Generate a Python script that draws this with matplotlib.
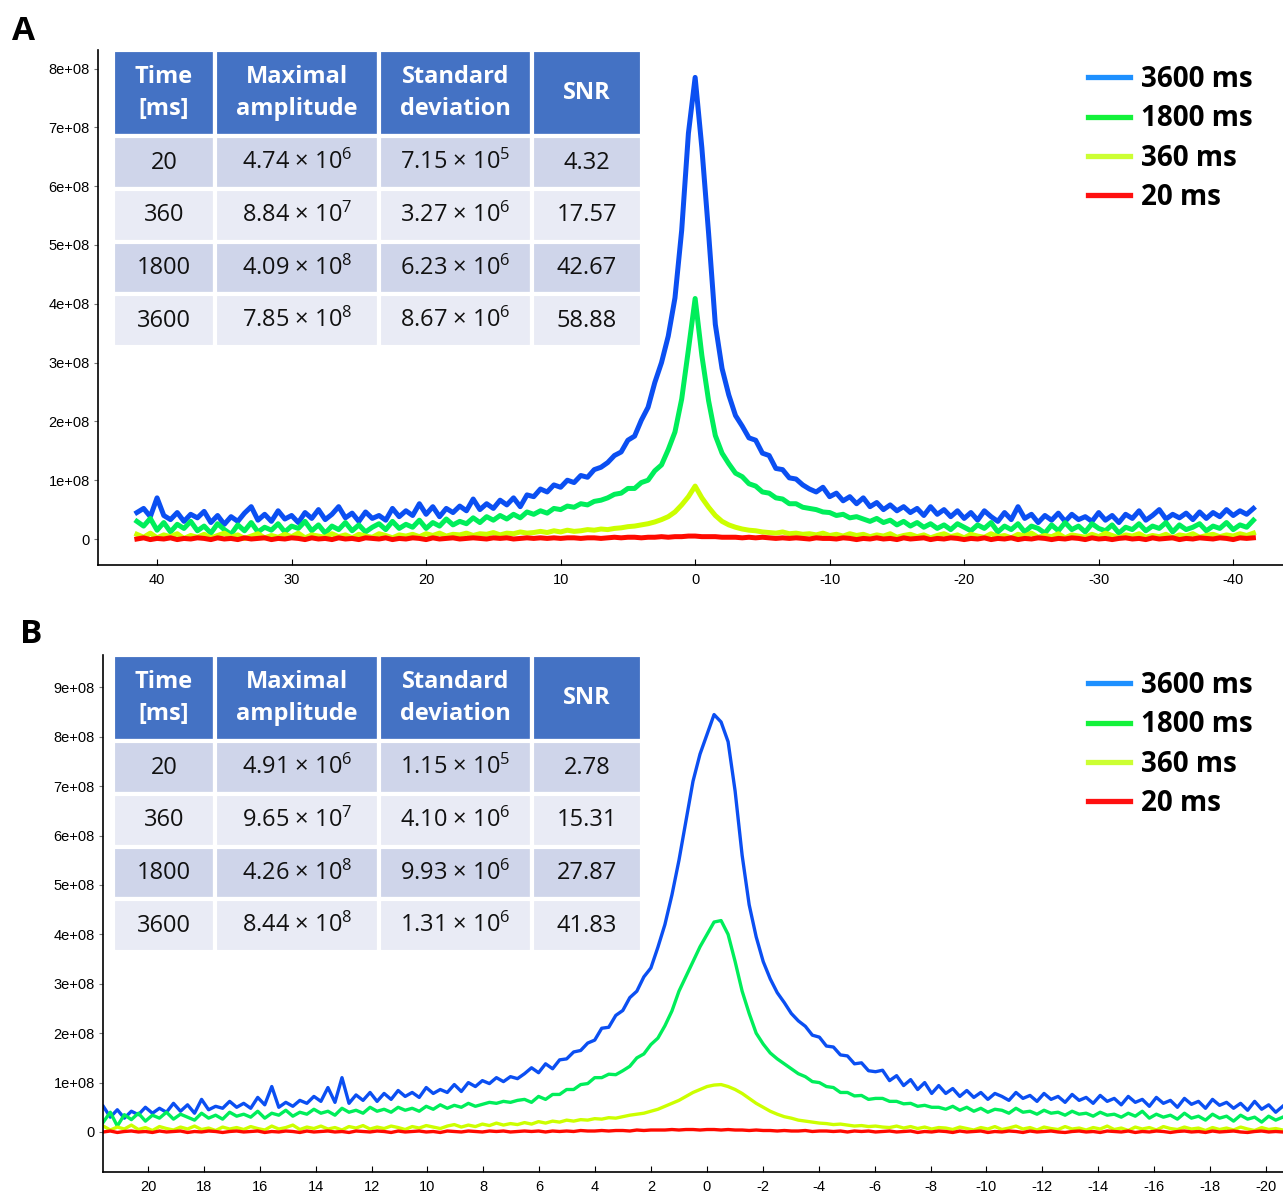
import matplotlib
matplotlib.use('Agg')
import matplotlib.pyplot as plt
from matplotlib.lines import Line2D
from matplotlib.font_manager import FontProperties
from matplotlib.ticker import FuncFormatter, MultipleLocator
import numpy as np

plt.rcParams['font.family'] = ['Liberation Sans', 'DejaVu Sans']
plt.rcParams['axes.unicode_minus'] = False
plt.rcParams['mathtext.fontset'] = 'custom'
plt.rcParams['mathtext.rm'] = 'Open Sans'
plt.rcParams['mathtext.it'] = 'Open Sans:italic'
plt.rcParams['mathtext.bf'] = 'Open Sans:bold'

W, H = 1283, 1192

labels = ['3600 ms', '1800 ms', '360 ms', '20 ms']
line_colors = ['#0b4ff2', '#00ee5a', '#ccff00', '#ff0a00']
legend_colors = ['#1e90ff', '#13f23a', '#ccff33', '#ff1010']

header = ['Time\n[ms]', 'Maximal\namplitude', 'Standard\ndeviation', 'SNR']
times = ['20', '360', '1800', '3600']

# panel A table
amp_a = [(4.74, 6), (8.84, 7), (4.09, 8), (7.85, 8)]
std_a = [(7.15, 5), (3.27, 6), (6.23, 6), (8.67, 6)]
snr_a = [4.32, 17.57, 42.67, 58.88]

# panel B table
amp_b = [(4.91, 6), (9.65, 7), (4.26, 8), (8.44, 8)]
std_b = [(1.15, 5), (4.10, 6), (9.93, 6), (1.31, 6)]
snr_b = [2.78, 15.31, 27.87, 41.83]

# panel A spectra, units of 1e6, read every 0.5 from 41.5 down to -41.5
blue_a = [45, 52, 38, 70, 40, 33, 45, 30, 42, 36,
          47, 28, 40, 25, 38, 30, 44, 55, 32, 42,
          30, 48, 34, 40, 28, 45, 35, 50, 33, 42,
          55, 36, 44, 30, 46, 35, 40, 32, 52, 38,
          48, 40, 60, 42, 55, 38, 52, 45, 56, 48,
          68, 50, 60, 52, 66, 58, 70, 55, 75, 72,
          85, 80, 92, 88, 100, 96, 108, 105, 118, 122,
          130, 142, 148, 168, 175, 202, 224, 266, 300, 345,
          410, 525, 690, 785, 665, 520, 365, 290, 245, 210,
          192, 172, 168, 146, 142, 120, 118, 104, 102, 92,
          85, 80, 88, 72, 78, 65, 72, 60, 70, 55,
          62, 50, 58, 48, 55, 45, 52, 40, 55, 42,
          50, 38, 48, 35, 45, 32, 48, 38, 30, 45,
          33, 55, 35, 42, 28, 40, 32, 44, 30, 42,
          33, 38, 30, 45, 32, 40, 28, 42, 35, 48,
          32, 40, 50, 34, 42, 36, 44, 33, 46, 35,
          45, 38, 50, 40, 48, 42, 52]
green_a = [30, 22, 35, 15, 28, 12, 25, 18, 30, 14,
           22, 10, 26, 16, 8, 24, 14, 28, 12, 20,
           15, 26, 12, 22, 18, 30, 14, 24, 10, 22,
           16, 28, 14, 24, 12, 20, 26, 16, 30, 18,
           25, 20, 32, 18, 28, 22, 34, 24, 30, 26,
           36, 28, 38, 32, 40, 34, 42, 36, 46, 42,
           48, 44, 52, 50, 56, 54, 60, 58, 64, 66,
           70, 76, 78, 86, 86, 96, 100, 116, 126, 152,
           182, 238, 322, 409, 312, 235, 176, 146, 128, 112,
           106, 94, 90, 80, 78, 70, 68, 60, 60, 54,
           52, 50, 46, 45, 40, 42, 36, 38, 34, 30,
           35, 28, 32, 24, 30, 22, 28, 20, 26, 18,
           24, 16, 26, 20, 14, 24, 18, 28, 12, 22,
           16, 26, 12, 22, 18, 10, 24, 14, 28, 16,
           22, 12, 26, 18, 14, 24, 10, 20, 16, 26,
           14, 22, 18, 28, 12, 24, 16, 20, 26, 14,
           22, 18, 28, 16, 24, 20, 32]
yellow_a = [8, 3, 10, 2, 7, 4, 9, 1, 6, 3,
            8, 2, 6, 10, 3, 7, 1, 5, 9, 2,
            6, 3, 8, 4, 10, 2, 7, 5, 3, 9,
            4, 7, 2, 8, 5, 3, 9, 6, 2, 7,
            5, 8, 4, 9, 6, 10, 5, 8, 7, 10,
            6, 9, 8, 11, 7, 10, 9, 12, 10, 11,
            13, 11, 14, 12, 15, 13, 14, 16, 15, 17,
            16, 18, 19, 21, 22, 24, 26, 29, 33, 38,
            46, 58, 72, 90, 70, 54, 40, 30, 24, 20,
            17, 15, 14, 12, 11, 10, 12, 9, 10, 8,
            9, 7, 10, 6, 8, 5, 9, 6, 8, 4,
            7, 5, 9, 3, 6, 8, 4, 7, 2, 6,
            9, 4, 7, 2, 8, 5, 3, 9, 4, 6,
            2, 8, 5, 10, 3, 6, 4, 9, 2, 7,
            5, 3, 8, 4, 10, 6, 2, 7, 5, 9,
            3, 6, 4, 8, 2, 7, 5, 9, 3, 6,
            8, 4, 7, 5, 9, 6, 10]
red_a = [0, 2, -1, 1, 0, 2, -1, 1, 0, 2,
         1, -1, 2, 0, 1, -1, 2, 0, 1, 2,
         -1, 1, 0, 2, 1, -1, 2, 0, 1, -1,
         2, 0, 1, -1, 2, 1, 0, 2, -1, 1,
         0, 2, 1, -1, 2, 0, 1, 2, 0, 1,
         2, 1, 0, 2, 1, 2, 0, 1, 2, 1,
         2, 1, 2, 1, 2, 2, 1, 2, 2, 1,
         2, 3, 2, 3, 3, 2, 3, 3, 4, 3,
         4, 4, 5, 5, 4, 4, 4, 3, 3, 3,
         2, 3, 2, 3, 2, 1, 2, 1, 2, 1,
         0, 2, 1, 1, 0, 2, 1, -1, 1, 0,
         2, 0, 1, -1, 2, 0, 1, 2, -1, 1,
         0, 2, 1, -1, 1, 0, 2, -1, 1, 0,
         2, -1, 1, 0, 2, 1, -1, 1, 0, 2,
         1, -1, 2, 0, 1, -1, 1, 2, 0, 1,
         -1, 2, 0, 1, 2, -1, 1, 0, 2, 1,
         0, 2, 1, -1, 2, 1, 2]

# panel B spectra, units of 1e6, read every 0.25 from 21.6 down to -20.6
blue_b = [52, 30, 45, 28, 42, 35, 50, 38, 48, 40, 58, 42, 55, 38, 66, 45, 52, 48, 62, 50,
          58, 48, 70, 55, 92, 50, 60, 52, 64, 58, 72, 62, 90, 60, 110, 58, 75, 64, 80, 62,
          78, 66, 84, 72, 80, 70, 90, 78, 86, 80, 96, 82, 100, 92, 104, 98, 110, 102, 112, 108,
          118, 130, 120, 138, 128, 146, 148, 162, 165, 180, 186, 210, 212, 236, 246, 272, 285, 314, 332, 374,
          420, 480, 550, 630, 710, 765, 805, 845, 830, 790, 690, 560, 460, 395, 345, 310, 282, 262, 240, 225,
          214, 196, 192, 174, 172, 156, 154, 138, 140, 124, 122, 125, 104, 114, 94, 106, 86, 100, 78, 94,
          78, 88, 72, 84, 70, 80, 66, 78, 72, 64, 80, 68, 74, 62, 78, 66, 72, 60, 76, 64,
          70, 58, 74, 62, 68, 55, 72, 60, 66, 52, 70, 58, 64, 50, 68, 56, 62, 48, 66, 54,
          60, 48, 58, 44, 62, 46, 55, 40, 52]
green_b = [20, 40, 12, 35, 25, 38, 22, 34, 28, 40, 26, 36, 30, 24, 38, 28, 34, 26, 40, 32,
           36, 30, 42, 28, 38, 34, 44, 32, 40, 36, 46, 38, 42, 34, 48, 40, 44, 38, 50, 42,
           46, 40, 50, 44, 48, 42, 52, 46, 55, 48, 54, 50, 58, 52, 56, 60, 58, 62, 60, 64,
           66, 60, 72, 66, 76, 76, 86, 86, 96, 98, 110, 110, 117, 116, 124, 133, 150, 158, 177, 190,
           215, 245, 285, 315, 345, 375, 400, 425, 428, 400, 345, 285, 240, 200, 178, 160, 148, 138, 128, 118,
           112, 102, 100, 92, 90, 80, 80, 73, 74, 66, 68, 68, 62, 62, 57, 58, 52, 54, 50, 50,
           46, 52, 44, 50, 42, 48, 40, 46, 44, 38, 48, 40, 42, 36, 44, 38, 40, 34, 42, 36,
           38, 32, 40, 34, 36, 30, 38, 32, 42, 28, 36, 30, 34, 26, 38, 28, 32, 24, 36, 28,
           32, 22, 34, 26, 30, 20, 32, 24, 30]
yellow_b = [12, 4, 10, 6, 14, 5, 9, 3, 11, 7, 4, 10, 6, 12, 5, 8, 3, 10, 6, 9,
            5, 11, 7, 4, 12, 6, 9, 14, 5, 10, 7, 12, 6, 9, 4, 11, 8, 13, 6, 10,
            7, 12, 9, 5, 11, 8, 13, 10, 7, 12, 15, 10, 14, 11, 16, 13, 18, 14, 17, 15,
            19, 16, 21, 18, 22, 20, 24, 22, 25, 24, 27, 26, 29, 28, 31, 34, 36, 38, 42, 46,
            52, 58, 64, 72, 80, 86, 92, 95, 96, 92, 86, 78, 68, 58, 50, 42, 36, 31, 28, 24,
            22, 20, 18, 17, 15, 16, 14, 12, 13, 11, 12, 10, 9, 12, 8, 11, 7, 10, 6, 9,
            8, 5, 10, 7, 4, 9, 6, 11, 5, 8, 12, 6, 9, 4, 10, 7, 5, 11, 6, 8,
            4, 9, 6, 12, 5, 8, 3, 10, 6, 9, 4, 11, 7, 5, 10, 6, 8, 3, 9, 5,
            8, 4, 10, 6, 3, 9, 5, 7, 4]
red_b = [0, 2, -1, 1, 2, 0, 1, -1, 2, 0, 1, 2, -1, 1, 0, 2, 1, -1, 1, 2,
         0, 1, 2, -1, 1, 0, 2, 1, -1, 2, 0, 1, 2, 0, 1, -1, 2, 1, 0, 2,
         1, -1, 2, 0, 1, 2, 0, 1, -1, 2, 1, 0, 2, 1, 0, 2, 1, 2, 0, 1,
         2, 1, 2, 0, 2, 1, 2, 1, 3, 2, 2, 3, 2, 3, 3, 2, 4, 3, 4, 4,
         4, 5, 4, 5, 5, 4, 5, 5, 4, 5, 4, 4, 3, 4, 3, 3, 2, 3, 2, 2,
         3, 1, 2, 2, 1, 2, 0, 2, 1, 2, 0, 1, 2, 0, 1, 2, -1, 1, 0, 2,
         1, -1, 2, 0, 1, 2, -1, 1, 0, 2, 1, -1, 2, 0, 1, 2, 0, -1, 1, 2,
         0, 1, -1, 2, 1, 0, 2, -1, 1, 0, 2, 1, -1, 1, 2, 0, 1, -1, 2, 0,
         1, 2, 0, -1, 1, 2, 0, 1, 0]


def px_rect(l, t, r, b):
    return [l / W, 1 - b / H, (r - l) / W, (b - t) / H]


def px_bbox(ax_px, l, t, r, b):
    al, at, ar, ab = ax_px
    return [(l - al) / (ar - al), (ab - b) / (ab - at), (r - l) / (ar - al), (b - t) / (ab - at)]


def sci(pair):
    m, e = pair
    return f'{m:.2f} × $10^{{{e}}}$'


def y_label(v, pos):
    if abs(v) < 1:
        return '0'
    return f'{v:.0e}'


def draw_panel(ax, series, x_start, x_end, xlim, ylim, xstep, lw):
    for ys, c in zip(series, line_colors):
        xs = np.linspace(x_start, x_end, len(ys))
        ax.plot(xs, np.array(ys) * 1e6, color=c, lw=lw)
    ax.set_xlim(xlim)
    ax.set_ylim(ylim)
    for s in ['top', 'right']:
        ax.spines[s].set_visible(False)
    for s in ['left', 'bottom']:
        ax.spines[s].set_linewidth(1.2)
    ax.xaxis.set_major_locator(MultipleLocator(xstep))
    ax.yaxis.set_major_locator(MultipleLocator(1e8))
    ax.yaxis.set_major_formatter(FuncFormatter(y_label))
    ax.tick_params(axis='x', direction='in', length=4, pad=6, labelsize=10.5)
    ax.tick_params(axis='y', direction='out', length=3, pad=3, labelsize=10.5, color='#777777')


def draw_table(ax, amps, stds, snrs, bbox):
    body = [[t, sci(a), sci(s), f'{n:.2f}'] for t, a, s, n in zip(times, amps, stds, snrs)]
    tbl = ax.table(cellText=body, colLabels=header, colWidths=[102, 164, 153, 110],
                   bbox=bbox, cellLoc='center')
    tbl.auto_set_font_size(False)
    for (r, c), cell in tbl.get_celld().items():
        cell.set_edgecolor('white')
        cell.set_linewidth(3)
        txt = cell.get_text()
        if r == 0:
            cell.set_facecolor('#4472c4')
            cell.set_height(86)
            txt.set_fontproperties(FontProperties(family='Open Sans', weight='bold', size=17))
            txt.set_color('white')
            txt.set_linespacing(1.42)
        else:
            cell.set_facecolor('#cfd5ea' if r % 2 == 1 else '#e9ebf5')
            cell.set_height(52.5)
            txt.set_fontproperties(FontProperties(family='Open Sans', size=17))
            txt.set_color('#111111')
    return tbl


def draw_legend(fig, ax, top_px):
    handles = [Line2D([], [], color=c, lw=3.8) for c in legend_colors]
    ax.legend(handles, labels, loc='upper left', bbox_to_anchor=(1088 / W, 1 - top_px / H),
              bbox_transform=fig.transFigure, frameon=False, borderpad=0, borderaxespad=0,
              handlelength=1.5, handletextpad=0.4, labelspacing=0.37,
              prop=FontProperties(family='Open Sans', weight='bold', size=20))


fig = plt.figure(figsize=(W / 100, H / 100), dpi=100)

ax_a_px = (98, 50, 1283, 565)
ax_a = fig.add_axes(px_rect(*ax_a_px))
draw_panel(ax_a, [blue_a, green_a, yellow_a, red_a], 41.5, -41.5,
           (44.39, -43.7), (-0.442e8, 8.316e8), 10, 3.6)
draw_table(ax_a, amp_a, std_a, snr_a, px_bbox(ax_a_px, 113, 50, 642, 347))
draw_legend(fig, ax_a, 65)

ax_b_px = (103, 655, 1283, 1172)
ax_b = fig.add_axes(px_rect(*ax_b_px))
draw_panel(ax_b, [blue_b, green_b, yellow_b, red_b], 21.6, -20.6,
           (21.61, -20.61), (-0.81e8, 9.656e8), 2, 2.4)
draw_table(ax_b, amp_b, std_b, snr_b, px_bbox(ax_b_px, 113, 655, 642, 952))
draw_legend(fig, ax_b, 671)

fig.text(12 / W, 1 - 40 / H, 'A', fontsize=24, fontweight='bold', family='Open Sans',
         ha='left', va='baseline')
fig.text(20 / W, 1 - 643 / H, 'B', fontsize=24, fontweight='bold', family='Open Sans',
         ha='left', va='baseline')

fig.savefig('out.png', dpi=100)
